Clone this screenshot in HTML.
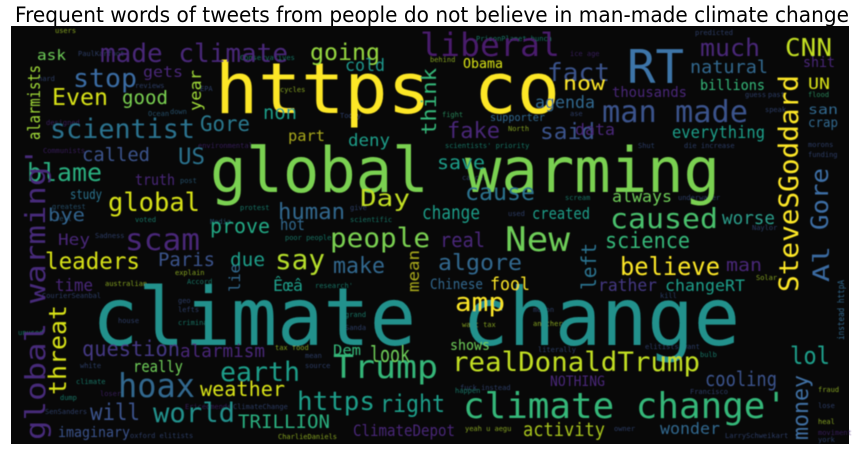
<!DOCTYPE html>
<html><head><meta charset="utf-8"><style>
html,body{margin:0;padding:0;background:#fff;}
svg{display:block;}
.w{font-family:"DejaVu Sans Mono","Liberation Mono",monospace;}
</style></head><body>
<svg width="865" height="455" viewBox="0 0 865 455" xmlns="http://www.w3.org/2000/svg">
<defs><filter id="bl" x="-5%" y="-5%" width="110%" height="110%"><feGaussianBlur stdDeviation="0.6"/></filter></defs>
<text x="432" y="22" text-anchor="middle" font-family="DejaVu Sans, Liberation Sans, sans-serif" font-size="21" fill="#000" textLength="834" lengthAdjust="spacingAndGlyphs">Frequent words of tweets from people do not believe in man-made climate change</text>
<rect x="11" y="26" width="838" height="418" fill="#080808"/>
<g class="w" filter="url(#bl)">
<g font-size="7" fill="#3b528b" opacity="0.7">
<text x="55" y="33" fill="#b5de2b">users</text><text x="78" y="56">PaulKarfoot</text><text x="240" y="60" fill="#1f9e89">Conservatives</text><text x="38" y="81">hard</text><text x="135" y="88">reviews</text><text x="200" y="91">EPA</text><text x="280" y="92" fill="#b5de2b">cycles</text><text x="170" y="114" fill="#31688e">down</text><text x="148" y="116" fill="#31688e">Ocean</text><text x="46" y="125" fill="#482878">designed</text><text x="340" y="118">Today</text><text x="198" y="148" fill="#482878">environmental</text><text x="43" y="153" fill="#482878">Communists</text><text x="180" y="183" fill="#31688e">post</text><text x="52" y="209" fill="#31688e">greatest</text><text x="240" y="210" fill="#1f9e89">protest</text><text x="350" y="210">give</text><text x="55" y="221" fill="#31688e">sell</text><text x="135" y="222" fill="#1f9e89">voted</text><text x="210" y="224" fill="#31688e">Media</text><text x="350" y="222" fill="#1f9e89">scientific</text><text x="285" y="240" fill="#1f9e89">poor people</text><text x="95" y="238">Sadness</text><text x="175" y="275" fill="#b5de2b">explain</text><text x="105" y="286" fill="#b5de2b">australian</text><text x="187" y="284" fill="#1f9e89">Accord</text><text x="315" y="288" fill="#1f9e89">research'</text><text x="42" y="298">CourierSeanbal</text><text x="178" y="303">geo</text><text x="178" y="312">lefts</text><text x="118" y="323">house</text><text x="178" y="325" fill="#1f9e89">criminal</text><text x="345" y="317" fill="#1f9e89">grand</text><text x="345" y="330">Sanda</text><text x="18" y="335" fill="#1f9e89">unused</text><text x="275" y="350" fill="#b5de2b">tax food</text><text x="305" y="358">mean</text><text x="305" y="368">source</text><text x="80" y="368">white</text><text x="76" y="384" fill="#1f9e89">climate</text><text x="100" y="396" fill="#482878">loser</text><text x="60" y="400" fill="#1f9e89">dump</text><text x="185" y="409" fill="#482878">Ericedmends</text><text x="233" y="409">ClimateChange</text><text x="45" y="414">SenSanders</text><text x="130" y="438">oxford elitists</text><text x="278" y="439" fill="#b5de2b">CharlieDaniels</text><text x="476" y="41" fill="#1f9e89">PrisonPlanet bunch</text><text x="695" y="35">predicted</text><text x="570" y="56" fill="#482878">ice age</text><text x="430" y="62" fill="#b5de2b">behind</text><text x="745" y="97">guess</text><text x="768" y="97">past</text><text x="808" y="97" fill="#35b779">flood</text><text x="442" y="117" fill="#35b779">fight</text><text x="570" y="116">ase</text><text x="765" y="112">speak</text><text x="508" y="131" fill="#b5de2b">North</text><text x="445" y="148" fill="#1f9e89">scientists' priority</text><text x="638" y="148">Shut</text><text x="684" y="148">die increase</text><text x="808" y="147">morons</text><text x="808" y="157">funding</text><text x="462" y="180">cancer</text><text x="565" y="200" fill="#1f9e89">scream</text><text x="678" y="200">underwater</text><text x="508" y="216">used</text><text x="752" y="230">Naylor</text><text x="533" y="312">moron</text><text x="533" y="326" fill="#b5de2b">another</text><text x="462" y="327" fill="#b5de2b">want tax</text><text x="538" y="352">literally</text><text x="645" y="349">elitists want</text><text x="700" y="357" fill="#1f9e89">bulb</text><text x="460" y="390">fuck instead</text><text x="455" y="393" fill="#1f9e89">happen</text><text x="690" y="394">Francisco</text><text x="818" y="392" fill="#b5de2b">fraud</text><text x="818" y="408">lose</text><text x="818" y="424" fill="#b5de2b">heal</text><text x="818" y="435" fill="#482878">moviment</text><text x="465" y="431" fill="#b5de2b">yeah u aegu</text><text x="614" y="431">owner</text><text x="725" y="438">LarrySchweikart</text><text x="818" y="442">york</text><text x="756" y="280" fill="#b5de2b">Solar</text><text x="660" y="298">kill</text>
</g>
<text x="92" y="345" font-size="80" fill="#21918c" textLength="648" lengthAdjust="spacingAndGlyphs">climate change</text>
<text x="210" y="192" font-size="62" fill="#7ad151" textLength="510" lengthAdjust="spacingAndGlyphs">global warming</text>
<text x="215" y="113" font-size="70" fill="#fde725" textLength="345" lengthAdjust="spacingAndGlyphs">https co</text>
<text x="627" y="83" font-size="46" fill="#3e74a8" textLength="57" lengthAdjust="spacingAndGlyphs">RT</text>
<text x="100" y="62" font-size="26" fill="#482878" textLength="188" lengthAdjust="spacingAndGlyphs">made climate</text>
<text x="310" y="60" font-size="23" fill="#95d840" textLength="70" lengthAdjust="spacingAndGlyphs">going</text>
<text x="420" y="56" font-size="32" fill="#481a6c" textLength="140" lengthAdjust="spacingAndGlyphs">liberal</text>
<text x="700" y="56" font-size="24" fill="#482878" textLength="60" lengthAdjust="spacingAndGlyphs">much</text>
<text x="785" y="56" font-size="25" fill="#c2df23" textLength="47" lengthAdjust="spacingAndGlyphs">CNN</text>
<text x="73" y="87" font-size="26" fill="#3a6ca3" textLength="64" lengthAdjust="spacingAndGlyphs">stop</text>
<text x="37" y="60" font-size="14" fill="#6ece58" textLength="29" lengthAdjust="spacingAndGlyphs">ask</text>
<text x="52" y="105" font-size="23" fill="#d8e219" textLength="56" lengthAdjust="spacingAndGlyphs">Even</text>
<text x="122" y="104" font-size="19" fill="#7ad151" textLength="46" lengthAdjust="spacingAndGlyphs">good</text>
<text x="50" y="138" font-size="27" fill="#2c728e" textLength="145" lengthAdjust="spacingAndGlyphs">scientist</text>
<text x="200" y="131" font-size="21" fill="#2a788e" textLength="50" lengthAdjust="spacingAndGlyphs">Gore</text>
<text x="263" y="119" font-size="19" fill="#1f9e89" textLength="34" lengthAdjust="spacingAndGlyphs">non</text>
<text x="288" y="141" font-size="15" fill="#a8a81a" textLength="37" lengthAdjust="spacingAndGlyphs">part</text>
<text x="348" y="146" font-size="17" fill="#1f9e89" textLength="42" lengthAdjust="spacingAndGlyphs">deny</text>
<text x="345" y="71" font-size="17" fill="#1f968b" textLength="40" lengthAdjust="spacingAndGlyphs">cold</text>
<text x="143" y="77" font-size="15" fill="#482878" textLength="40" lengthAdjust="spacingAndGlyphs">gets</text>
<text x="82" y="161" font-size="19" fill="#3b528b" textLength="68" lengthAdjust="spacingAndGlyphs">called</text>
<text x="178" y="164" font-size="22" fill="#2c728e" textLength="27" lengthAdjust="spacingAndGlyphs">US</text>
<text x="27" y="181" font-size="25" fill="#29af7f" textLength="75" lengthAdjust="spacingAndGlyphs">blame</text>
<text x="135" y="185" font-size="15" fill="#482878" textLength="40" lengthAdjust="spacingAndGlyphs">truth</text>
<text x="70" y="199" font-size="13" fill="#2c728e" textLength="32" lengthAdjust="spacingAndGlyphs">study</text>
<text x="108" y="211" font-size="26" fill="#d8e219" textLength="92" lengthAdjust="spacingAndGlyphs">global</text>
<text x="360" y="206" font-size="23" fill="#c2df23" textLength="50" lengthAdjust="spacingAndGlyphs">Day</text>
<text x="278" y="219" font-size="22" fill="#31688e" textLength="67" lengthAdjust="spacingAndGlyphs">human</text>
<text x="48" y="221" font-size="18" fill="#33638d" textLength="37" lengthAdjust="spacingAndGlyphs">bye</text>
<text x="210" y="233" font-size="20" fill="#22a884" textLength="60" lengthAdjust="spacingAndGlyphs">prove</text>
<text x="280" y="230" font-size="16" fill="#31688e" textLength="25" lengthAdjust="spacingAndGlyphs">hot</text>
<text x="330" y="247" font-size="27" fill="#7ad151" textLength="100" lengthAdjust="spacingAndGlyphs">people</text>
<text x="125" y="250" font-size="30" fill="#482878" textLength="75" lengthAdjust="spacingAndGlyphs">scam</text>
<text x="58" y="245" font-size="16" fill="#482878" textLength="32" lengthAdjust="spacingAndGlyphs">Hey</text>
<text x="45" y="269" font-size="23" fill="#d8e219" textLength="95" lengthAdjust="spacingAndGlyphs">leaders</text>
<text x="158" y="266" font-size="19" fill="#3b528b" textLength="57" lengthAdjust="spacingAndGlyphs">Paris</text>
<text x="230" y="266" font-size="19" fill="#1f9e89" textLength="35" lengthAdjust="spacingAndGlyphs">due</text>
<text x="275" y="269" font-size="28" fill="#b5de2b" textLength="50" lengthAdjust="spacingAndGlyphs">say</text>
<text x="333" y="273" font-size="22" fill="#31688e" textLength="52" lengthAdjust="spacingAndGlyphs">make</text>
<text x="55" y="291" font-size="17" fill="#482878" textLength="38" lengthAdjust="spacingAndGlyphs">time</text>
<text x="273" y="291" font-size="16" fill="#1f9e89" textLength="30" lengthAdjust="spacingAndGlyphs">Êœâ</text>
<text x="82" y="356" font-size="21" fill="#443983" textLength="98" lengthAdjust="spacingAndGlyphs">question</text>
<text x="180" y="357" font-size="18" fill="#482878" textLength="85" lengthAdjust="spacingAndGlyphs">alarmism</text>
<text x="220" y="381" font-size="27" fill="#1f9e89" textLength="80" lengthAdjust="spacingAndGlyphs">earth</text>
<text x="333" y="378" font-size="32" fill="#35b779" textLength="105" lengthAdjust="spacingAndGlyphs">Trump</text>
<text x="333" y="355" font-size="14" fill="#35b779" textLength="28" lengthAdjust="spacingAndGlyphs">Dem</text>
<text x="370" y="362" font-size="22" fill="#6ece58" textLength="40" lengthAdjust="spacingAndGlyphs">look</text>
<text x="133" y="372" font-size="16" fill="#6ece58" textLength="50" lengthAdjust="spacingAndGlyphs">really</text>
<text x="118" y="397" font-size="33" fill="#31688e" textLength="77" lengthAdjust="spacingAndGlyphs">hoax</text>
<text x="200" y="396" font-size="20" fill="#d8e219" textLength="85" lengthAdjust="spacingAndGlyphs">weather</text>
<text x="297" y="410" font-size="26" fill="#1f9e89" textLength="78" lengthAdjust="spacingAndGlyphs">https</text>
<text x="380" y="412" font-size="24" fill="#1f9e89" textLength="65" lengthAdjust="spacingAndGlyphs">right</text>
<text x="90" y="420" font-size="23" fill="#3b528b" textLength="50" lengthAdjust="spacingAndGlyphs">will</text>
<text x="153" y="422" font-size="27" fill="#21918c" textLength="82" lengthAdjust="spacingAndGlyphs">world</text>
<text x="238" y="428" font-size="19" fill="#29af7f" textLength="92" lengthAdjust="spacingAndGlyphs">TRILLION</text>
<text x="58" y="437" font-size="14" fill="#3b528b" textLength="72" lengthAdjust="spacingAndGlyphs">imaginary</text>
<text x="353" y="436" font-size="16" fill="#482878" textLength="102" lengthAdjust="spacingAndGlyphs">ClimateDepot</text>
<text x="505" y="251" font-size="34" fill="#6ece58" textLength="65" lengthAdjust="spacingAndGlyphs">New</text>
<text x="605" y="248" font-size="22" fill="#35b779" textLength="85" lengthAdjust="spacingAndGlyphs">science</text>
<text x="610" y="228" font-size="28" fill="#4ac16d" textLength="108" lengthAdjust="spacingAndGlyphs">caused</text>
<text x="465" y="200" font-size="23" fill="#2c728e" textLength="70" lengthAdjust="spacingAndGlyphs">cause</text>
<text x="612" y="202" font-size="16" fill="#6ece58" textLength="60" lengthAdjust="spacingAndGlyphs">always</text>
<text x="532" y="219" font-size="16" fill="#1f9e89" textLength="58" lengthAdjust="spacingAndGlyphs">created</text>
<text x="722" y="224" font-size="18" fill="#2a9d8a" textLength="53" lengthAdjust="spacingAndGlyphs">worse</text>
<text x="602" y="122" font-size="30" fill="#3b528b" textLength="146" lengthAdjust="spacingAndGlyphs">man made</text>
<text x="672" y="138" font-size="17" fill="#1f9e89" textLength="93" lengthAdjust="spacingAndGlyphs">everything</text>
<text x="540" y="139" font-size="22" fill="#3b528b" textLength="55" lengthAdjust="spacingAndGlyphs">said</text>
<text x="575" y="135" font-size="16" fill="#482878" textLength="40" lengthAdjust="spacingAndGlyphs">data</text>
<text x="447" y="138" font-size="22" fill="#482878" textLength="53" lengthAdjust="spacingAndGlyphs">fake</text>
<text x="535" y="108" font-size="17" fill="#31688e" textLength="60" lengthAdjust="spacingAndGlyphs">agenda</text>
<text x="547" y="81" font-size="25" fill="#3b528b" textLength="63" lengthAdjust="spacingAndGlyphs">fact</text>
<text x="563" y="90" font-size="19" fill="#fde725" textLength="42" lengthAdjust="spacingAndGlyphs">now</text>
<text x="612" y="97" font-size="14" fill="#482878" textLength="75" lengthAdjust="spacingAndGlyphs">thousands</text>
<text x="700" y="90" font-size="14" fill="#35b779" textLength="65" lengthAdjust="spacingAndGlyphs">billions</text>
<text x="690" y="73" font-size="18" fill="#31688e" textLength="78" lengthAdjust="spacingAndGlyphs">natural</text>
<text x="463" y="68" font-size="13" fill="#d8e219" textLength="40" lengthAdjust="spacingAndGlyphs">Obama</text>
<text x="808" y="89" font-size="16" fill="#d8e219" textLength="22" lengthAdjust="spacingAndGlyphs">UN</text>
<text x="803" y="67" font-size="14" fill="#482878" textLength="32" lengthAdjust="spacingAndGlyphs">shit</text>
<text x="808" y="114" font-size="13" fill="#31688e" textLength="30" lengthAdjust="spacingAndGlyphs">san</text>
<text x="808" y="127" font-size="13" fill="#31688e" textLength="30" lengthAdjust="spacingAndGlyphs">crap</text>
<text x="490" y="121" font-size="11" fill="#31688e" textLength="55" lengthAdjust="spacingAndGlyphs">supporter</text>
<text x="437" y="169" font-size="19" fill="#1f9e89" textLength="48" lengthAdjust="spacingAndGlyphs">save</text>
<text x="422" y="219" font-size="19" fill="#1f9e89" textLength="58" lengthAdjust="spacingAndGlyphs">change</text>
<text x="440" y="247" font-size="20" fill="#482878" textLength="45" lengthAdjust="spacingAndGlyphs">real</text>
<text x="438" y="270" font-size="22" fill="#31688e" textLength="84" lengthAdjust="spacingAndGlyphs">algore</text>
<text x="620" y="275" font-size="25" fill="#fde725" textLength="100" lengthAdjust="spacingAndGlyphs">believe</text>
<text x="726" y="271" font-size="18" fill="#482878" textLength="36" lengthAdjust="spacingAndGlyphs">man</text>
<text x="430" y="289" font-size="14" fill="#31688e" textLength="53" lengthAdjust="spacingAndGlyphs">Chinese</text>
<text x="490" y="290" font-size="18" fill="#fde725" textLength="40" lengthAdjust="spacingAndGlyphs">fool</text>
<text x="598" y="291" font-size="17" fill="#443983" textLength="59" lengthAdjust="spacingAndGlyphs">rather</text>
<text x="665" y="291" font-size="16" fill="#1f9e89" textLength="80" lengthAdjust="spacingAndGlyphs">changeRT</text>
<text x="455" y="311" font-size="26" fill="#fde725" textLength="50" lengthAdjust="spacingAndGlyphs">amp</text>
<text x="450" y="350" font-size="14" fill="#6ece58" textLength="40" lengthAdjust="spacingAndGlyphs">shows</text>
<text x="452" y="371" font-size="27" fill="#c2df23" textLength="248" lengthAdjust="spacingAndGlyphs">realDonaldTrump</text>
<text x="790" y="364" font-size="24" fill="#1f9e89" textLength="40" lengthAdjust="spacingAndGlyphs">lol</text>
<text x="705" y="386" font-size="20" fill="#3b528b" textLength="72" lengthAdjust="spacingAndGlyphs">cooling</text>
<text x="550" y="386" font-size="14" fill="#482878" textLength="55" lengthAdjust="spacingAndGlyphs">NOTHING</text>
<text x="463" y="418" font-size="36" fill="#35b779" textLength="324" lengthAdjust="spacingAndGlyphs">climate change'</text>
<text x="523" y="436" font-size="19" fill="#a8c51c" textLength="82" lengthAdjust="spacingAndGlyphs">activity</text>
<text x="660" y="434" font-size="16" fill="#31688e" textLength="60" lengthAdjust="spacingAndGlyphs">wonder</text>
<text transform="translate(45,440) rotate(-90)" font-size="28" fill="#472c7a" textLength="293" lengthAdjust="spacingAndGlyphs">global warming'</text>
<text transform="translate(40,140) rotate(-90)" font-size="17" fill="#a0da39" textLength="75" lengthAdjust="spacingAndGlyphs">alarmists</text>
<text transform="translate(201,111) rotate(-90)" font-size="16" fill="#a0da39" textLength="41" lengthAdjust="spacingAndGlyphs">year</text>
<text transform="translate(436,135) rotate(-90)" font-size="20" fill="#35b779" textLength="67" lengthAdjust="spacingAndGlyphs">think</text>
<text transform="translate(66,395) rotate(-90)" font-size="24" fill="#d8e219" textLength="90" lengthAdjust="spacingAndGlyphs">threat</text>
<text transform="translate(798,292) rotate(-90)" font-size="27" fill="#fde725" textLength="217" lengthAdjust="spacingAndGlyphs">SteveSGoddard</text>
<text transform="translate(828,230) rotate(-90)" font-size="24" fill="#3e6ea5" textLength="62" lengthAdjust="spacingAndGlyphs">Gore</text>
<text transform="translate(829,282) rotate(-90)" font-size="22" fill="#3b6aa0" textLength="36" lengthAdjust="spacingAndGlyphs">Al</text>
<text transform="translate(808,440) rotate(-90)" font-size="22" fill="#3f6fa3" textLength="65" lengthAdjust="spacingAndGlyphs">money</text>
<text transform="translate(419,292) rotate(-90)" font-size="16" fill="#a8a81a" textLength="42" lengthAdjust="spacingAndGlyphs">mean</text>
<text transform="translate(240,292) rotate(-90)" font-size="15" fill="#31688e" textLength="28" lengthAdjust="spacingAndGlyphs">lie</text>
<text transform="translate(596,290) rotate(-90)" font-size="20" fill="#2c728e" textLength="47" lengthAdjust="spacingAndGlyphs">left</text>
<text transform="translate(844,340) rotate(-90)" font-size="9" fill="#31688e" textLength="60" lengthAdjust="spacingAndGlyphs">instead httpA</text>
</g>
</svg>
</body></html>
